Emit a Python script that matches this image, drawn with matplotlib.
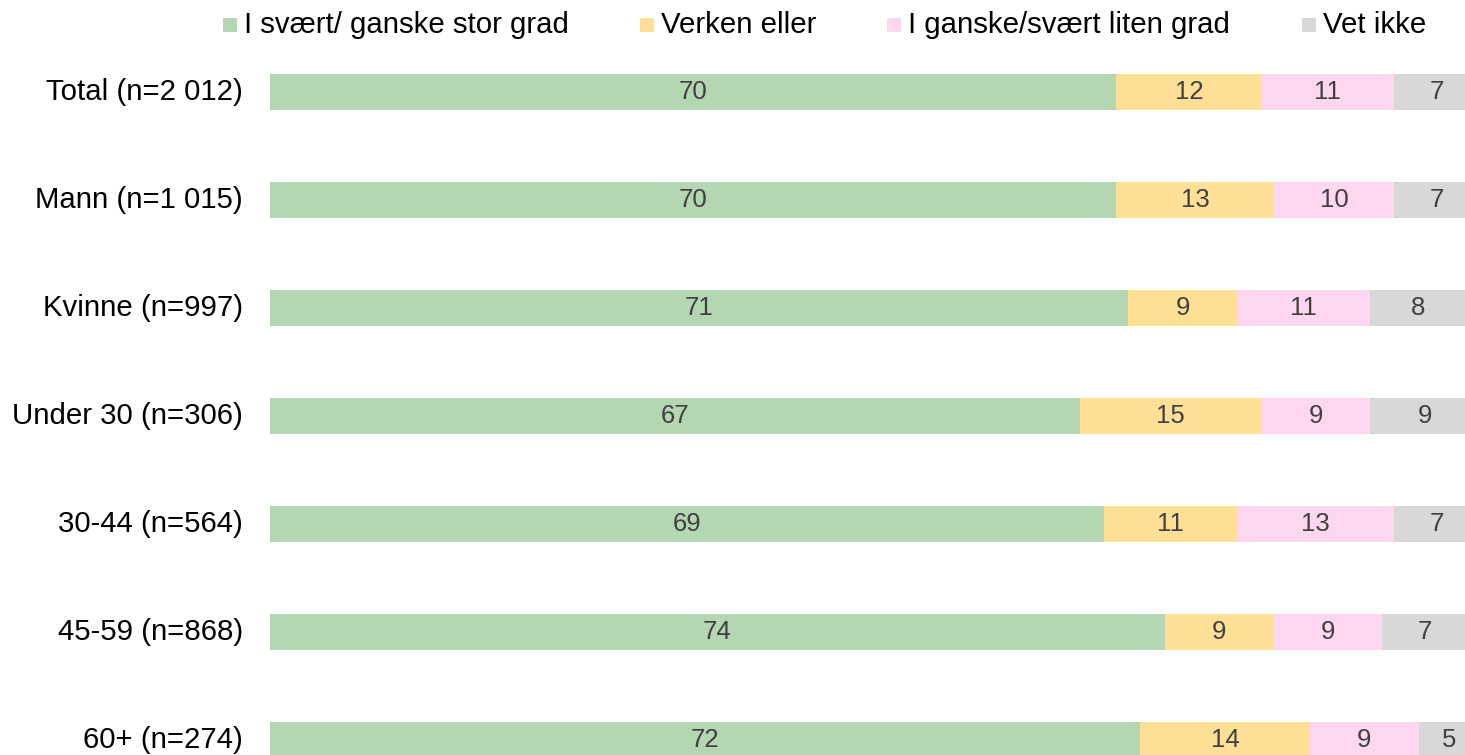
import matplotlib
matplotlib.use("Agg")
import matplotlib.pyplot as plt
from matplotlib.patches import Rectangle
import numpy as np

plt.rcParams['font.family'] = ['Liberation Sans', 'DejaVu Sans']

categories = ["Total (n=2 012)", "Mann (n=1 015)", "Kvinne (n=997)", "Under 30 (n=306)",
              "30-44 (n=564)", "45-59 (n=868)", "60+ (n=274)"]
series_names = ["I svært/ ganske stor grad", "Verken eller", "I ganske/svært liten grad", "Vet ikke"]
stor_grad = [70, 70, 71, 67, 69, 74, 72]
verken = [12, 13, 9, 15, 11, 9, 14]
liten_grad = [11, 10, 11, 9, 13, 9, 9]
vet_ikke = [7, 7, 8, 9, 7, 7, 5]
colors = ["#B5D6B3", "#FDDF96", "#FFD6EF", "#D8D8D8"]

W, H = 1465, 755
fig = plt.figure(figsize=(W / 100, H / 100), dpi=100)

# axes in pixel geometry
left_px, right_px = 270, 1479
top_px, bot_px = 38, 794
ax = fig.add_axes([left_px / W, (H - bot_px) / H, (right_px - left_px) / W, (bot_px - top_px) / H])

series = [stor_grad, verken, liten_grad, vet_ikke]
y = np.arange(len(categories))
left = np.zeros(len(categories))
for vals, col in zip(series, colors):
    vals = np.array(vals, dtype=float)
    ax.barh(y, vals, left=left, height=0.333, color=col, edgecolor='none')
    for yi, l, v in zip(y, left, vals):
        ax.text(l + v / 2, yi, f"{int(v)}", ha='center', va='center',
                fontsize=18.5, color='#404040')
    left += vals

ax.set_xlim(0, 100)
ax.set_ylim(len(categories) - 0.5, -0.5)
ax.axis('off')

for yi, cat in zip(y, categories):
    ax.text(-27 / 12.09, yi, cat, ha='right', va='center', fontsize=21.2, color='black')

# legend (manual)
sq_x = [223, 640, 887, 1302]
for sx, name, col in zip(sq_x, series_names, colors):
    fig.add_artist(Rectangle((sx / W, (H - 32) / H), 14 / W, 14 / H,
                             transform=fig.transFigure, facecolor=col, edgecolor='none'))
    fig.text((sx + 21) / W, (H - 25) / H, name, ha='left', va='center',
             fontsize=21.2, color='black')

fig.savefig("out.png", dpi=100)
